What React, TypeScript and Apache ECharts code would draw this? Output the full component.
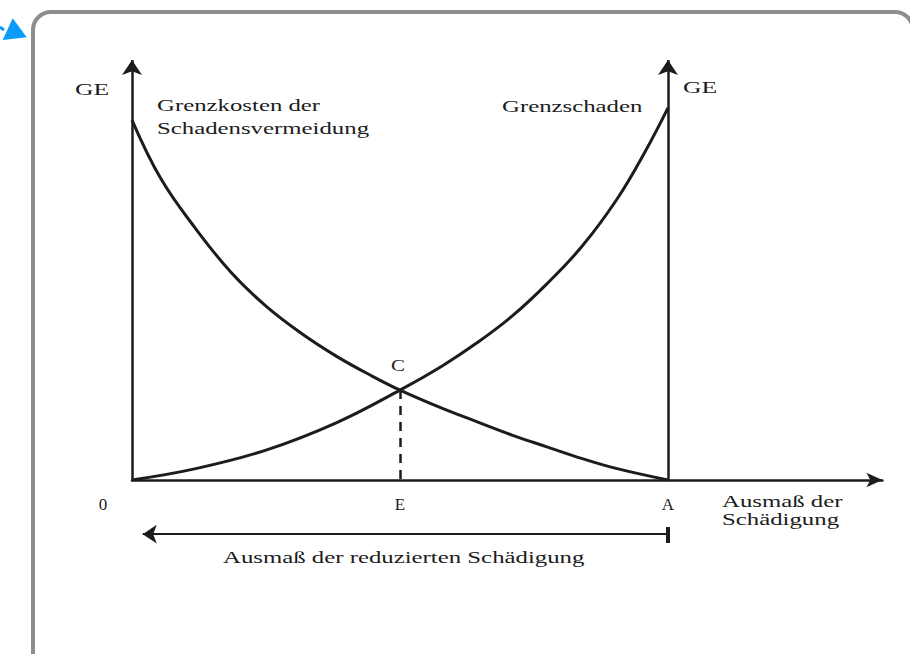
import React, { useEffect, useRef } from "react";
import * as echarts from "echarts";

// Grenzkosten der Schadensvermeidung: [Ausmaß der Schädigung, GE]
const costX = [0, 5.4, 11.9, 18.5, 25.0, 31.5, 38.1, 44.7, 50, 57.8, 64.3, 70.9, 77.4, 84.0, 90.5, 100];
const costY = [85.7, 71.7, 59.8, 49.4, 41.4, 35.0, 29.5, 24.8, 21.4, 17.1, 13.9, 10.7, 7.9, 5.1, 2.7, 0];
// Grenzschaden
const damageX = [0, 11.9, 25.0, 38.1, 50, 57.8, 64.3, 70.9, 77.4, 84.0, 90.5, 95.7, 100];
const damageY = [0, 2.7, 7.1, 13.6, 21.4, 27.1, 32.6, 39.0, 46.7, 55.7, 66.9, 78.1, 88.6];
// x-axis tick labels (0, E, A)
const tickValues = [0, 50, 100];
const tickLabels = ["0", "E", "A"];
// key points
const pointE = 50;
const pointA = 100;
const pointC = 21.4;
const axisTop = 100;
const reducedArrowY = -12.9;

const SERIF = '"Liberation Serif", "Times New Roman", serif';
const INK = "#1c1c1c";

export default function App() {
  const ref = useRef<HTMLDivElement>(null);
  useEffect(() => {
    if (!ref.current) return;
    const chart = echarts.init(ref.current, undefined, { renderer: "svg" });
    const txt = (text: string, x: number, y: number, sx = 1.55, align = "left") => ({
      type: "text",
      x,
      y,
      scaleX: sx,
      z: 10,
      style: {
        text,
        font: `16px ${SERIF}`,
        fill: INK,
        textAlign: align,
        textVerticalAlign: "middle",
        align,
        verticalAlign: "middle",
      },
    });
    chart.setOption({
      animation: false,
      backgroundColor: "#ffffff",
      grid: { left: 132, top: 60, right: 27.6, bottom: 90 },
      xAxis: {
        type: "value",
        min: 0,
        max: 140,
        interval: 50,
        axisLine: {
          show: true,
          onZero: true,
          symbol: ["none", "arrow"],
          symbolSize: [11, 16],
          lineStyle: { color: INK, width: 2.5 },
        },
        axisTick: { show: false },
        splitLine: { show: false },
        axisLabel: {
          margin: -68,
          color: INK,
          fontFamily: SERIF,
          fontSize: 16,
          showMaxLabel: false,
          formatter: (v: number) => {
            const i = tickValues.indexOf(v);
            if (i < 0) return "";
            return i === 0 ? "{z|" + tickLabels[i] + "}" : "{t|" + tickLabels[i] + "}";
          },
          rich: {
            z: { padding: [0, 58, 0, 0], fontFamily: SERIF, fontSize: 17, color: INK },
            t: { fontFamily: SERIF, fontSize: 17, color: INK },
          },
        },
      },
      yAxis: {
        type: "value",
        min: -20,
        max: 100,
        show: false,
      },
      series: [
        {
          name: "Grenzkosten der Schadensvermeidung",
          type: "line",
          smooth: 0.4,
          showSymbol: false,
          symbol: "none",
          clip: false,
          lineStyle: { color: INK, width: 3 },
          data: costX.map((x, i) => [x, costY[i]]),
          markLine: {
            silent: true,
            symbol: ["none", "arrow"],
            symbolSize: 15,
            label: { show: false },
            emphasis: { disabled: true },
            data: [
              [
                { coord: [0, 0], lineStyle: { color: INK, width: 2.5, type: "solid" } },
                { coord: [0, axisTop] },
              ],
              [
                { coord: [pointA, 0], lineStyle: { color: INK, width: 2.5, type: "solid" } },
                { coord: [pointA, axisTop] },
              ],
              [
                {
                  coord: [pointE, pointC],
                  symbol: "none",
                  lineStyle: { color: INK, width: 2.5, type: [9, 7] },
                },
                { coord: [pointE, 0], symbol: "none" },
              ],
              [
                { coord: [pointA, reducedArrowY], lineStyle: { color: INK, width: 2, type: "solid" } },
                { coord: [2, reducedArrowY], symbolSize: 14 },
              ],
              [
                {
                  coord: [pointA, reducedArrowY + 1.7],
                  symbol: "none",
                  lineStyle: { color: INK, width: 4, type: "solid" },
                },
                { coord: [pointA, reducedArrowY - 2.1], symbol: "none" },
              ],
            ],
          },
        },
        {
          name: "Grenzschaden",
          type: "line",
          smooth: 0.4,
          showSymbol: false,
          symbol: "none",
          clip: false,
          lineStyle: { color: INK, width: 3 },
          data: damageX.map((x, i) => [x, damageY[i]]),
        },
      ],
      graphic: [
        {
          type: "rect",
          z: 0,
          shape: { x: 33, y: 12, width: 880, height: 700, r: 18 },
          style: { fill: "none", stroke: "#8d8d8d", lineWidth: 4 },
        },
        {
          type: "polygon",
          z: 5,
          shape: { points: [[2.7, 40], [26.7, 37.3], [12.7, 18.3]] },
          style: { fill: "#0a9bf6" },
        },
        {
          type: "line",
          z: 5,
          shape: { x1: 0, y1: 27, x2: 4, y2: 30 },
          style: { stroke: "#0a9bf6", lineWidth: 3 },
        },
        txt("GE", 75, 90, 1.6),
        txt("GE", 683, 88, 1.6),
        txt("Grenzkosten der", 157, 106),
        txt("Schadensvermeidung", 157, 129),
        txt("Grenzschaden", 502, 107),
        txt("C", 398, 365, 1.3, "center"),
        txt("Ausmaß der", 722, 502),
        txt("Schädigung", 722, 520),
        txt("Ausmaß der reduzierten Schädigung", 223, 558),
      ],
    });
    return () => chart.dispose();
  }, []);
  return (
    <div
      ref={ref}
      style={{ position: "fixed", left: 0, top: 0, width: 910, height: 654, background: "#fff" }}
    />
  );
}
